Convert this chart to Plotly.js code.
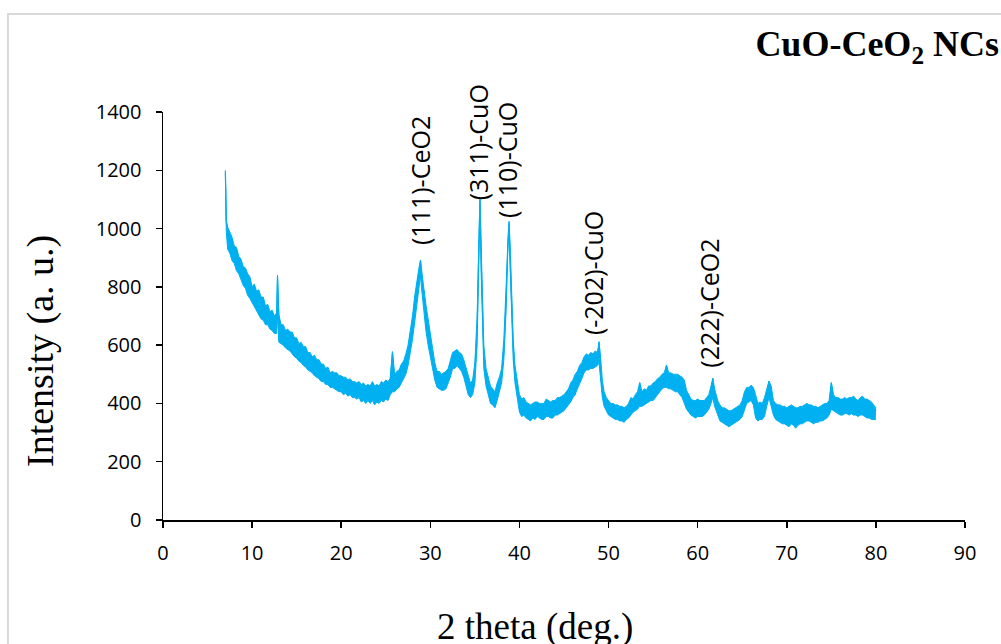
<!DOCTYPE html>
<html>
<head>
<meta charset="utf-8">
<script src="https://cdn.plot.ly/plotly-3.0.1.min.js"></script>
<style>
html,body{margin:0;padding:0;background:#fff;}
#chart{width:1001px;height:644px;}
</style>
</head>
<body>
<div id="chart"></div>
<script>
// 2-theta (deg.) positions
var twoTheta = [
7.00, 7.10, 7.25, 7.50, 7.75, 8.00, 8.25, 8.50, 8.75, 9.00,
9.25, 9.50, 9.75, 10.00, 10.25, 10.50, 10.75, 11.00, 11.25, 11.50,
11.75, 12.00, 12.25, 12.50, 12.75, 12.85, 13.00, 13.25, 13.50, 13.75,
14.00, 14.25, 14.50, 14.75, 15.00, 15.25, 15.50, 15.75, 16.00, 16.25,
16.50, 16.75, 17.00, 17.25, 17.50, 17.75, 18.00, 18.25, 18.50, 18.75,
19.00, 19.25, 19.50, 19.75, 20.00, 20.25, 20.50, 20.75, 21.00, 21.25,
21.50, 21.75, 22.00, 22.25, 22.50, 22.75, 23.00, 23.25, 23.50, 23.75,
24.00, 24.25, 24.50, 24.75, 25.00, 25.25, 25.50, 25.75, 26.00, 26.25,
26.50, 26.75, 27.00, 27.25, 27.50, 27.75, 28.00, 28.25, 28.50, 28.75,
28.90, 29.00, 29.25, 29.50, 29.75, 30.00, 30.25, 30.50, 30.75, 31.00,
31.25, 31.50, 31.75, 32.00, 32.25, 32.50, 32.75, 33.00, 33.25, 33.50,
33.75, 34.00, 34.25, 34.50, 34.75, 35.00, 35.25, 35.45, 35.57, 35.70,
35.85, 36.00, 36.25, 36.50, 36.75, 37.00, 37.25, 37.50, 37.75, 38.00,
38.25, 38.50, 38.70, 38.83, 38.95, 39.10, 39.30, 39.50, 39.75, 40.00,
40.25, 40.50, 40.75, 41.00, 41.25, 41.50, 41.75, 42.00, 42.25, 42.50,
42.75, 43.00, 43.25, 43.50, 43.75, 44.00, 44.25, 44.50, 44.75, 45.00,
45.25, 45.50, 45.75, 46.00, 46.25, 46.50, 46.75, 47.00, 47.25, 47.50,
47.75, 48.00, 48.25, 48.50, 48.75, 48.93, 49.10, 49.30, 49.50, 49.75,
50.00, 50.25, 50.50, 50.75, 51.00, 51.25, 51.50, 51.75, 52.00, 52.25,
52.50, 52.75, 53.00, 53.25, 53.50, 53.75, 54.00, 54.25, 54.50, 54.75,
55.00, 55.25, 55.50, 55.75, 56.00, 56.25, 56.50, 56.75, 57.00, 57.25,
57.50, 57.75, 58.00, 58.25, 58.50, 58.75, 59.00, 59.25, 59.50, 59.75,
60.00, 60.25, 60.50, 60.75, 61.00, 61.25, 61.50, 61.70, 61.90, 62.25,
62.50, 62.75, 63.00, 63.25, 63.50, 63.75, 64.00, 64.25, 64.50, 64.75,
65.00, 65.25, 65.50, 65.75, 66.00, 66.25, 66.50, 66.75, 67.00, 67.25,
67.50, 67.75, 68.00, 68.25, 68.50, 68.75, 69.00, 69.25, 69.50, 69.75,
70.00, 70.25, 70.50, 70.75, 71.00, 71.25, 71.50, 71.75, 72.00, 72.25,
72.50, 72.75, 73.00, 73.25, 73.50, 73.75, 74.00, 74.25, 74.50, 74.75,
75.00, 75.25, 75.50, 75.75, 76.00, 76.25, 76.50, 76.75, 77.00, 77.25,
77.50, 77.75, 78.00, 78.25, 78.50, 78.75, 79.00, 79.25, 79.50, 79.75,
80.00
];

// Intensity (a. u.): the noisy trace itself
var intensity = [
1195, 1020, 1000, 935, 965, 900, 930, 860, 890, 835,
860, 790, 830, 765, 800, 735, 780, 700, 760, 690,
720, 660, 700, 650, 690, 835, 700, 620, 665, 600,
650, 590, 640, 575, 620, 560, 600, 545, 590, 530,
570, 515, 555, 505, 545, 490, 530, 480, 515, 470,
505, 460, 500, 455, 490, 450, 485, 440, 480, 435,
470, 425, 470, 420, 465, 410, 460, 415, 470, 405,
455, 410, 470, 415, 475, 420, 480, 575, 460, 500,
470, 530, 500, 560, 570, 640, 670, 750, 800, 850,
890, 820, 790, 700, 660, 590, 560, 500, 470, 500,
455, 490, 460, 510, 530, 570, 545, 580, 550, 560,
520, 500, 460, 440, 470, 520, 650, 950, 1100, 900,
700, 560, 480, 455, 420, 440, 400, 430, 470, 500,
580, 750, 960, 1020, 900, 740, 590, 500, 450, 400,
370, 410, 355, 395, 345, 390, 350, 400, 355, 395,
350, 410, 360, 400, 355, 405, 365, 415, 375, 420,
390, 440, 410, 470, 430, 500, 470, 530, 515, 560,
520, 565, 525, 570, 540, 610, 520, 440, 420, 380,
405, 360, 395, 350, 390, 345, 385, 340, 380, 360,
410, 380, 420, 395, 470, 405, 440, 410, 450, 420,
460, 430, 470, 450, 490, 470, 530, 470, 500, 460,
495, 455, 490, 440, 470, 400, 430, 375, 410, 365,
410, 360, 405, 370, 410, 400, 440, 485, 420, 390,
350, 380, 335, 375, 330, 370, 335, 380, 345, 390,
370, 420, 450, 420, 460, 440, 400, 360, 400, 350,
410, 430, 475, 430, 380, 395, 350, 390, 340, 385,
330, 385, 335, 390, 320, 380, 335, 385, 340, 400,
345, 390, 335, 385, 340, 380, 345, 395, 360, 395,
470, 400, 415, 375, 410, 365, 415, 370, 410, 375,
420, 365, 405, 370, 420, 360, 410, 365, 400, 350,
380
];

// Upper and lower edges of the noise band
var upperEdge = [
1200, 1030, 1005, 985, 970, 940, 935, 905, 895, 870,
865, 845, 835, 800, 810, 785, 790, 765, 765, 735,
740, 715, 720, 700, 710, 840, 705, 670, 670, 650,
655, 645, 645, 625, 625, 605, 610, 595, 595, 575,
575, 560, 565, 550, 550, 535, 535, 520, 525, 505,
510, 505, 505, 495, 495, 490, 490, 480, 485, 475,
475, 470, 475, 465, 470, 460, 465, 460, 475, 460,
465, 460, 475, 470, 480, 475, 485, 578, 500, 510,
515, 535, 545, 570, 600, 650, 700, 770, 830, 870,
892, 860, 800, 740, 680, 640, 590, 540, 510, 510,
500, 505, 510, 520, 550, 575, 580, 585, 575, 570,
550, 520, 490, 470, 480, 540, 700, 1000, 1105, 950,
760, 600, 520, 490, 460, 450, 440, 470, 490, 520,
620, 800, 980, 1025, 950, 780, 620, 530, 470, 430,
415, 420, 405, 400, 395, 400, 405, 405, 400, 400,
400, 415, 410, 405, 410, 410, 420, 420, 425, 430,
440, 450, 470, 480, 500, 510, 530, 540, 560, 570,
565, 575, 570, 580, 575, 612, 560, 480, 440, 420,
410, 400, 400, 395, 395, 390, 390, 385, 390, 400,
420, 415, 430, 440, 472, 440, 450, 445, 460, 460,
470, 475, 485, 490, 500, 505, 532, 505, 505, 500,
500, 500, 495, 490, 480, 445, 430, 415, 410, 410,
415, 410, 410, 410, 420, 430, 460, 487, 450, 410,
395, 385, 385, 380, 375, 375, 380, 385, 390, 395,
410, 440, 455, 455, 462, 455, 430, 400, 405, 400,
420, 450, 477, 460, 410, 400, 395, 395, 390, 390,
385, 390, 395, 390, 385, 385, 390, 390, 395, 400,
395, 395, 390, 390, 385, 390, 395, 400, 400, 410,
472, 430, 420, 420, 415, 415, 420, 415, 420, 420,
425, 415, 410, 420, 425, 415, 415, 410, 405, 395,
385
];
var lowerEdge = [
1185, 990, 930, 915, 890, 880, 855, 845, 825, 805,
795, 770, 760, 745, 730, 715, 700, 690, 685, 670,
670, 655, 650, 640, 640, 700, 610, 605, 600, 590,
585, 580, 570, 560, 555, 545, 540, 530, 525, 515,
510, 505, 495, 490, 485, 475, 475, 465, 465, 455,
455, 450, 445, 440, 440, 430, 435, 425, 430, 420,
420, 415, 420, 405, 410, 400, 410, 400, 410, 395,
405, 400, 410, 405, 415, 410, 430, 440, 440, 450,
455, 470, 480, 500, 530, 570, 620, 680, 740, 800,
840, 800, 720, 650, 600, 560, 510, 480, 455, 450,
445, 445, 450, 470, 490, 520, 520, 530, 520, 510,
490, 460, 430, 420, 430, 470, 600, 900, 1080, 850,
650, 520, 460, 430, 400, 395, 385, 410, 440, 470,
550, 720, 930, 1000, 870, 700, 550, 470, 420, 370,
355, 360, 350, 345, 340, 350, 345, 355, 350, 345,
345, 355, 355, 350, 350, 360, 360, 365, 370, 375,
385, 395, 405, 420, 430, 450, 465, 485, 505, 515,
515, 520, 520, 525, 530, 540, 480, 420, 390, 375,
360, 355, 350, 345, 345, 340, 340, 335, 345, 350,
360, 370, 375, 380, 390, 390, 395, 400, 405, 410,
410, 420, 430, 440, 450, 455, 455, 450, 450, 445,
440, 440, 430, 420, 400, 380, 370, 360, 355, 350,
355, 355, 355, 360, 370, 380, 400, 420, 390, 360,
340, 335, 330, 325, 320, 325, 330, 335, 340, 345,
355, 375, 400, 405, 410, 395, 350, 340, 345, 345,
355, 390, 420, 390, 360, 345, 340, 335, 330, 330,
325, 320, 330, 325, 315, 325, 330, 330, 335, 340,
340, 335, 330, 335, 335, 340, 340, 345, 350, 360,
380, 375, 370, 365, 360, 360, 365, 365, 360, 365,
360, 360, 355, 360, 360, 355, 350, 350, 345, 345,
345
];

// Peak labels and where their bases sit (2-theta, intensity)
var peakLabels = ["(111)-CeO2", "(311)-CuO", "(110)-CuO", "(-202)-CuO", "(222)-CeO2"];
var peakTheta  = [28.84, 35.35, 38.66, 48.20, 61.33];
var peakBase   = [935, 1090, 1028, 626, 516];

var xTicks = [0, 10, 20, 30, 40, 50, 60, 70, 80, 90];
var yTicks = [0, 200, 400, 600, 800, 1000, 1200, 1400];

var chartTitle = "CuO-CeO<sub>2</sub> NCs";
var xTitle = "2 theta (deg.)";
var yTitle = "Intensity (a. u.)";

var blue = "#00B0F0";
var traces = [
  {x: twoTheta, y: lowerEdge, type: "scatter", mode: "lines",
   line: {color: blue, width: 1}, hoverinfo: "skip"},
  {x: twoTheta, y: upperEdge, type: "scatter", mode: "lines", fill: "tonexty",
   fillcolor: blue, line: {color: blue, width: 1}, hoverinfo: "skip"},
  {x: twoTheta, y: intensity, type: "scatter", mode: "lines",
   line: {color: blue, width: 1.2}, hoverinfo: "skip"}
];

var annotations = peakLabels.map(function (t, i) {
  return {
    text: t, x: peakTheta[i], y: peakBase[i], xref: "x", yref: "y",
    textangle: -90, showarrow: false, xanchor: "center", yanchor: "bottom",
    font: {family: "Open Sans, Noto Sans, sans-serif", size: 25, color: "#000"}
  };
});
annotations.push({
  text: yTitle, xref: "paper", yref: "paper", x: -0.1534, y: 0.4142,
  textangle: -90, showarrow: false, xanchor: "center", yanchor: "middle",
  font: {family: "Liberation Serif, Times New Roman, serif", size: 38, color: "#000"}
});
annotations.push({
  text: xTitle, xref: "paper", yref: "paper", x: 0.4638, y: -0.262,
  showarrow: false, xanchor: "center", yanchor: "middle",
  font: {family: "Liberation Serif, Times New Roman, serif", size: 37, color: "#000"}
});

var axisCommon = {
  showgrid: false, zeroline: false, showline: true, linecolor: "#000", linewidth: 1.5,
  ticks: "outside", ticklen: 6, tickwidth: 1.5, tickcolor: "#000",
  tickfont: {family: "Open Sans, Noto Sans, sans-serif", size: 20, color: "#000"}
};

var layout = {
  width: 1001, height: 644,
  margin: {l: 163, r: 36, t: 112, b: 124, pad: 0},
  paper_bgcolor: "#fff", plot_bgcolor: "#fff",
  showlegend: false,
  title: {
    text: chartTitle, xref: "container", yref: "container",
    x: 0.998, xanchor: "right", y: 0.932, yanchor: "middle",
    font: {family: "Liberation Serif, Times New Roman, serif", size: 36, color: "#000", weight: "bold"}
  },
  xaxis: Object.assign({}, axisCommon, {
    range: [0, 90], tickmode: "array", tickvals: xTicks, ticktext: xTicks.map(String),
    ticklabelstandoff: 8
  }),
  yaxis: Object.assign({}, axisCommon, {
    range: [0, 1400], tickmode: "array", tickvals: yTicks, ticktext: yTicks.map(String),
    ticklabelstandoff: 10
  }),
  annotations: annotations,
  shapes: [{
    type: "rect", xref: "paper", yref: "paper", layer: "below",
    x0: -0.1933, x1: 1.2, y0: -0.5, y1: 1.2402,
    line: {color: "#d9d9d9", width: 2}, fillcolor: "rgba(0,0,0,0)"
  }]
};

Plotly.newPlot("chart", traces, layout, {displayModeBar: false, staticPlot: true});
</script>
</body>
</html>
